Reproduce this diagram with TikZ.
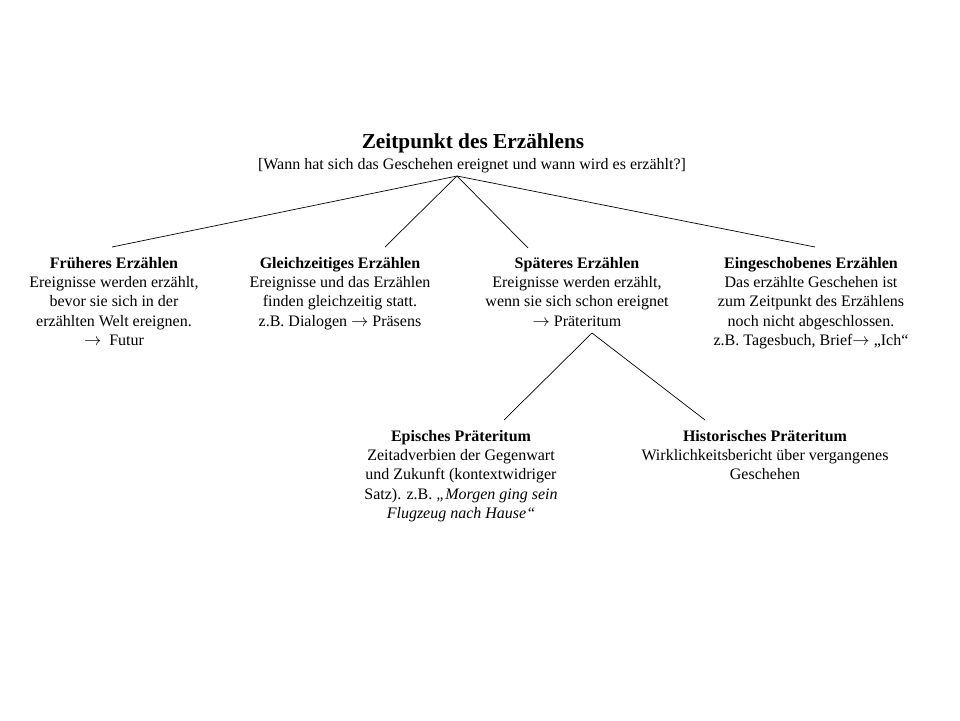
\documentclass[tikz,border=0pt]{standalone}
\usepackage{fontspec}
\setmainfont{Liberation Serif}
\usetikzlibrary{positioning}
\tikzset{
  branch/.style={anchor=north,align=center,inner sep=0pt,
    font=\fontsize{16}{19.3}\selectfont},
  twig/.style={line width=0.7pt}
}
\begin{document}
\begin{tikzpicture}[x=1pt,y=-1pt]
        \useasboundingbox (0,0) rectangle (960,720);
        \node[anchor=base,inner sep=0pt,font=\fontsize{21.3}{25}\selectfont\bfseries] (head) at (473,148) {Zeitpunkt des Erzählens};
        \node[anchor=base,inner sep=0pt,font=\fontsize{16}{19.3}\selectfont] (ask) at (472,169) {[Wann hat sich das Geschehen ereignet und wann wird es erzählt?]};
        \node[branch] (fruh)   at (114,254.4) {\strut\textbf{Früheres Erzählen}\\Ereignisse werden erzählt,\\bevor sie sich in der\\erzählten Welt ereignen.\\$\rightarrow$\ \ Futur};
        \node[branch] (gleich) at (340,254.4) {\strut\textbf{Gleichzeitiges Erzählen}\\Ereignisse und das Erzählen\\finden gleichzeitig statt.\\z.B. Dialogen $\rightarrow$ Präsens};
        \node[branch] (spaet)  at (577,254.4) {\strut\textbf{Späteres Erzählen}\\Ereignisse werden erzählt,\\wenn sie sich schon ereignet\\$\rightarrow$ Präteritum};
        \node[branch] (einge)  at (811,254.4) {\strut\textbf{Eingeschobenes Erzählen}\\Das erzählte Geschehen ist\\zum Zeitpunkt des Erzählens\\noch nicht abgeschlossen.\\z.B. Tagesbuch, Brief$\rightarrow$ „Ich“};
        \node[branch] (episch) at (461,427.4) {\strut\textbf{Episches Präteritum}\\Zeitadverbien der Gegenwart\\und Zukunft (kontextwidriger\\Satz). z.B. \textit{„Morgen ging sein}\\\textit{Flugzeug nach Hause“}};
        \node[branch] (histor) at (765,427.4) {\strut\textbf{Historisches Präteritum}\\Wirklichkeitsbericht über vergangenes\\Geschehen};
        % line ends
        \coordinate (ask-foot)   at (457,176);
        \coordinate (fruh-top)   at (112,247);
        \coordinate (gleich-top) at (385,247);
        \coordinate (spaet-top)  at (528,248);
        \coordinate (einge-top)  at (815,247);
        \coordinate (spaet-foot) at (592,333);
        \coordinate (episch-top) at (504,420);
        \coordinate (histor-top) at (705,420);
        \draw[twig] (ask-foot) -- (fruh-top);
        \draw[twig] (ask-foot) -- (gleich-top);
        \draw[twig] (ask-foot) -- (spaet-top);
        \draw[twig] (ask-foot) -- (einge-top);
        \draw[twig] (spaet-foot) -- (episch-top);
        \draw[twig] (spaet-foot) -- (histor-top);
    \end{tikzpicture}
\end{document}
